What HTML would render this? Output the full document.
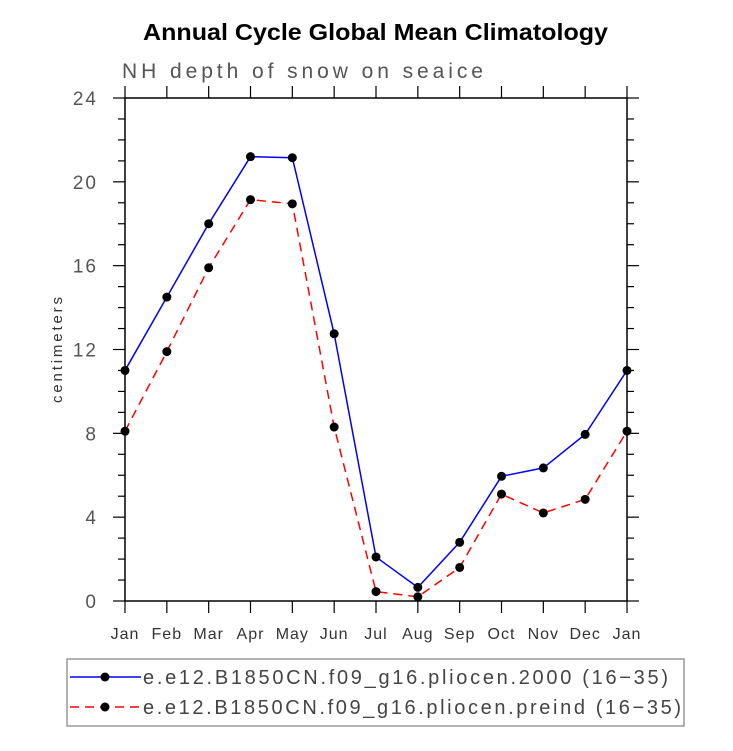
<!DOCTYPE html>
<html><head><meta charset="utf-8"><style>
body{margin:0;background:#fff;width:733px;height:746px;overflow:hidden}
svg text{font-family:"Liberation Sans",sans-serif}
</style></head><body>
<svg id="c" width="733" height="746">
<text x="143" y="40" textLength="465" lengthAdjust="spacingAndGlyphs" font-size="23" font-weight="bold">Annual Cycle Global Mean Climatology</text>
<text x="122" y="78" font-size="21" fill="#555" textLength="361" lengthAdjust="spacing">NH depth of snow on seaice</text>
<text transform="translate(62,350) rotate(-90)" text-anchor="middle" font-size="15" fill="#333" textLength="106" lengthAdjust="spacing">centimeters</text>
<g id="axes"></g><g id="series"></g>
<rect x="67" y="659" width="617" height="67" fill="none" stroke="#999" stroke-width="1.5"/>
<g>
<line x1="70" y1="677" x2="141" y2="677" stroke="#00f" stroke-width="1.5"/><circle cx="105" cy="677" r="4.5"/>
<text x="143" y="684" font-size="20" fill="#444" textLength="525" lengthAdjust="spacing">e.e12.B1850CN.f09_g16.pliocen.2000 (16−35)</text></g>
<g>
<line x1="70" y1="707" x2="141" y2="707" stroke="#f00" stroke-width="1.5" stroke-dasharray="9,6"/><circle cx="105" cy="707" r="4.5"/>
<text x="143" y="714" font-size="20" fill="#444" textLength="538" lengthAdjust="spacing">e.e12.B1850CN.f09_g16.pliocen.preind (16−35)</text></g>
</svg>
<script>
const months=["Jan","Feb","Mar","Apr","May","Jun","Jul","Aug","Sep","Oct","Nov","Dec","Jan"];
const yTicks=[0,4,8,12,16,20,24];
const seriesA=[11.0,14.5,18.0,21.2,21.15,12.75,2.1,0.65,2.8,5.95,6.35,7.95,11.0];
const seriesB=[8.1,11.9,15.9,19.15,18.95,8.3,0.45,0.2,1.6,5.1,4.2,4.85,8.1];
const X0=125,X1=627,Y0=601,Y1=98,YMAX=24;
const sx=i=>X0+(X1-X0)*i/(months.length-1);
const sy=v=>Y0-(Y0-Y1)*v/YMAX;
const NS="http://www.w3.org/2000/svg";
function mk(t,a,p){const e=document.createElementNS(NS,t);for(const k in a)e.setAttribute(k,a[k]);p.appendChild(e);return e;}
const ax=document.getElementById('axes');
const frame=mk('rect',{x:X0,y:Y1,width:X1-X0,height:Y0-Y1,fill:'none',stroke:'#000','stroke-width':1.5},ax);


for(let v=0;v<=YMAX;v++){const y=sy(v),L=v%4===0?12:7;
mk('line',{x1:X0-L,y1:y,x2:X0,y2:y,stroke:'#000','stroke-width':1.2},ax);
mk('line',{x1:X1,y1:y,x2:X1+L,y2:y,stroke:'#000','stroke-width':1.2},ax);}
yTicks.forEach(v=>{const t=mk('text',{x:X0-27,y:sy(v)+7,'text-anchor':'end','font-size':19,fill:'#555','letter-spacing':2},ax);t.textContent=v;

});
months.forEach((m,i)=>{const x=sx(i);
mk('line',{x1:x,y1:Y0,x2:x,y2:Y0+12,stroke:'#000','stroke-width':1.2},ax);
mk('line',{x1:x,y1:Y1-12,x2:x,y2:Y1,stroke:'#000','stroke-width':1.2},ax);
const t=mk('text',{x:x,y:639,'text-anchor':'middle','font-size':16,fill:'#333','letter-spacing':1},ax);t.textContent=m;

});
const sg=document.getElementById('series');
function draw(vals,col,dash,name){
const g=mk('g',{},sg);


mk('polyline',{points:vals.map((v,i)=>sx(i)+','+sy(v)).join(' '),fill:'none',stroke:col,'stroke-width':1.5,'stroke-dasharray':dash},g);
vals.forEach((v,i)=>{const c=mk('circle',{cx:sx(i),cy:sy(v),r:4.5,fill:'#000'},g);

});}
draw(seriesB,'#f00','9,6','series-preind');
draw(seriesA,'#00f','none','series-2000');
</script>
</body></html>
